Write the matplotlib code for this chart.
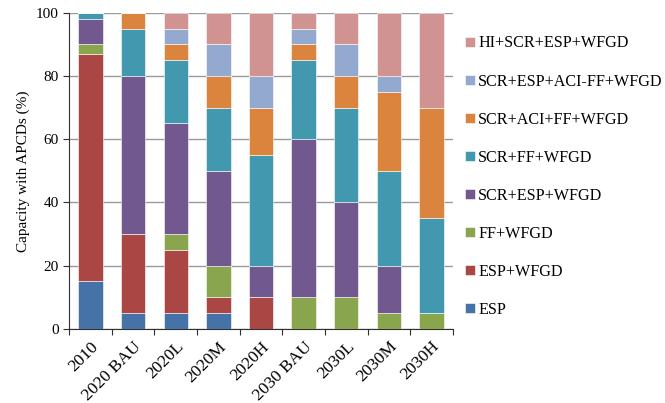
import numpy as np
import matplotlib
matplotlib.use("Agg")
import matplotlib.pyplot as plt

plt.rcParams['font.family'] = ['Liberation Serif', 'DejaVu Serif']

scenarios = ['2010', '2020 BAU', '2020L', '2020M', '2020H',
             '2030 BAU', '2030L', '2030M', '2030H']

# capacity share (%) of each APCD combination, bottom of the stack first
esp = [15, 5, 5, 5, 0, 0, 0, 0, 0]
esp_wfgd = [72, 25, 20, 5, 10, 0, 0, 0, 0]
ff_wfgd = [3, 0, 5, 10, 0, 10, 10, 5, 5]
scr_esp_wfgd = [8, 50, 35, 30, 10, 50, 30, 15, 0]
scr_ff_wfgd = [2, 15, 20, 20, 35, 25, 30, 30, 30]
scr_aci_ff_wfgd = [0, 5, 5, 10, 15, 5, 10, 25, 35]
scr_esp_aci_ff_wfgd = [0, 0, 5, 10, 10, 5, 10, 5, 0]
hi_scr_esp_wfgd = [0, 0, 5, 10, 20, 5, 10, 20, 30]

series = [
    ('ESP', esp, '#4572A7'),
    ('ESP+WFGD', esp_wfgd, '#AA4643'),
    ('FF+WFGD', ff_wfgd, '#89A54E'),
    ('SCR+ESP+WFGD', scr_esp_wfgd, '#71588F'),
    ('SCR+FF+WFGD', scr_ff_wfgd, '#4198AF'),
    ('SCR+ACI+FF+WFGD', scr_aci_ff_wfgd, '#DB843D'),
    ('SCR+ESP+ACI-FF+WFGD', scr_esp_aci_ff_wfgd, '#93A9CF'),
    ('HI+SCR+ESP+WFGD', hi_scr_esp_wfgd, '#D19392'),
]

fig = plt.figure(figsize=(6.65, 4.03), dpi=100)
ax = fig.add_axes([0.104, 0.184, 0.577, 0.784])

x = np.arange(len(scenarios))
bottom = np.zeros(len(scenarios))
handles = []
for name, vals, color in series:
    vals = np.array(vals, dtype=float)
    b = ax.bar(x, vals, width=0.57, bottom=bottom, color=color,
               edgecolor='white', linewidth=0.4, label=name, zorder=3)
    handles.append(b)
    bottom += vals

ax.set_xlim(-0.5, len(scenarios) - 0.5)
ax.set_ylim(0, 100)
ax.set_yticks(np.arange(0, 101, 20))
ax.yaxis.grid(True, color='#9a9a9a', linewidth=1.0, zorder=0)
ax.set_axisbelow(True)

# ticks sit between categories, labels under the bars
ax.set_xticks(np.arange(-0.5, len(scenarios), 1.0))
ax.set_xticklabels([])
ax.set_xticks(x, minor=True)
ax.set_xticklabels(scenarios, minor=True, rotation=45, ha='right',
                   rotation_mode='anchor', fontsize=12.5)
ax.tick_params(axis='x', which='minor', length=0, pad=7)
ax.tick_params(axis='x', which='major', length=4, color='#303030')
ax.tick_params(axis='y', length=4, labelsize=11, color='#303030')

for s in ['top', 'right']:
    ax.spines[s].set_visible(False)
for s in ['left', 'bottom']:
    ax.spines[s].set_color('#303030')

ax.set_ylabel('Capacity with APCDs (%)', fontsize=11)

fig.legend(handles[::-1], [h.get_label() for h in handles[::-1]],
           loc='upper left', bbox_to_anchor=(0.690, 0.928), frameon=False,
           fontsize=11.6, handlelength=0.6, handleheight=0.6,
           handletextpad=0.2, labelspacing=1.37, borderaxespad=0)

fig.savefig('out.png', dpi=100)
